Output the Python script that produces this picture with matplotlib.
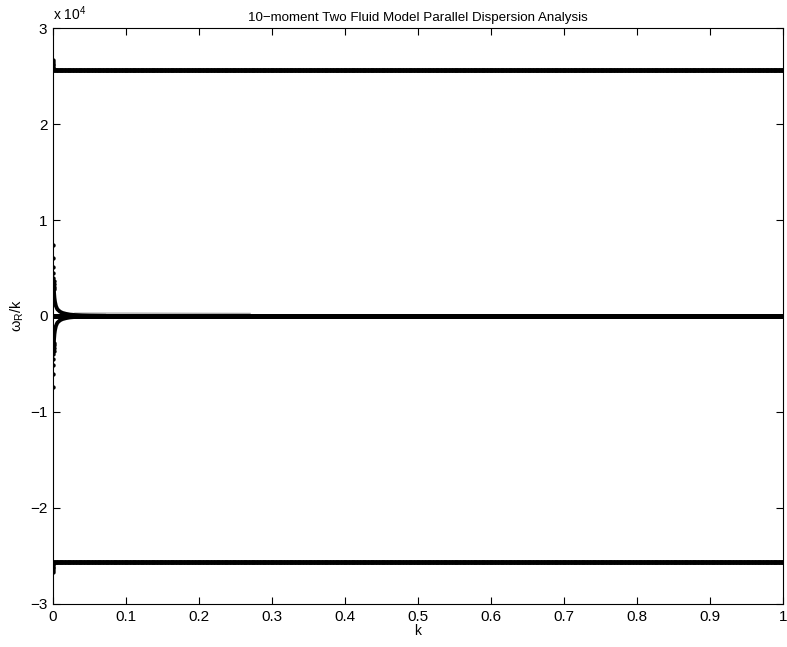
import matplotlib
matplotlib.use("Agg")
import matplotlib.pyplot as plt
import numpy as np

plt.rcParams['font.family'] = ['Liberation Sans', 'DejaVu Sans']
plt.rcParams['mathtext.fontset'] = 'custom'
plt.rcParams['mathtext.rm'] = 'Liberation Sans'
plt.rcParams['mathtext.it'] = 'Liberation Sans:italic'

# k grid used by the solver (1000 steps between 0 and 1)
k = np.arange(1, 1001) / 1000.0

# flat branches, omega_R/k
fast_hi = 25600.0
fast_lo = -25600.0
slow_hi = 0.0
slow_lo = 0.0

# small-k start of the fast branches
k_fast0 = [0.0002, 0.0003, 0.0004, 0.0005, 0.0007, 0.001]
fast0 = [26700, 26500, 26300, 26100, 25900, 25700]

# small-k part of the slow branches (separate dots, then the bend)
k_slow_dots = [0.0003, 0.0004, 0.0005, 0.0006, 0.0007, 0.0008, 0.0009, 0.0010, 0.0011]
slow_dots = [7400, 6000, 5100, 4500, 4000, 3600, 3300, 3050, 2850]
k_slow_bend = [0.0011, 0.0015, 0.002, 0.0027, 0.004, 0.006, 0.0096, 0.013, 0.018,
               0.023, 0.03, 0.04, 0.05, 0.07]
slow_bend = [2850, 2400, 1900, 1500, 1050, 700, 450, 320, 220, 150, 100, 60, 40, 20]

# faint residue just above zero out to k ~ 0.27
k_faint = [0.03, 0.1, 0.2, 0.27]
faint = [300, 300, 280, 270]

fig = plt.figure(figsize=(7.87, 6.47), dpi=100)
ax = fig.add_axes([0.0673, 0.0665, 0.9277, 0.8902])

s = 1e4
ms = 4.3
ax.plot(k_faint, np.array(faint) / s, '-', color='0.65', lw=0.9)
for v in [fast_hi, fast_lo, slow_hi, slow_lo]:
    ax.plot(k, np.full(k.shape, v) / s, 'k.', ms=ms)
ax.plot(k, np.full(k.shape, slow_hi) / s, 'k-', lw=3.3)
ax.plot(k_fast0, np.array(fast0) / s, 'k.', ms=ms)
ax.plot(k_fast0, -np.array(fast0) / s, 'k.', ms=ms)
ax.plot(k_slow_dots, np.array(slow_dots) / s, 'k.', ms=ms)
ax.plot(k_slow_dots, -np.array(slow_dots) / s, 'k.', ms=ms)
ax.plot(k_slow_bend, np.array(slow_bend) / s, 'k-', lw=2.8)
ax.plot(k_slow_bend, -np.array(slow_bend) / s, 'k-', lw=2.8)

ax.set_xlim(0, 1)
ax.set_ylim(-3, 3)
ax.set_xticks(np.arange(0, 1.01, 0.1))
ax.set_xticklabels(['0', '0.1', '0.2', '0.3', '0.4', '0.5', '0.6', '0.7', '0.8', '0.9', '1'])
ax.set_yticks(np.arange(-3, 4))
ax.tick_params(direction='in', top=True, right=True, length=5, labelsize=11, pad=4)
for sp in ax.spines.values():
    sp.set_linewidth(0.8)

ax.set_title('10\u2212moment Two Fluid Model Parallel Dispersion Analysis', fontsize=9.6, pad=5)
ax.set_xlabel('k', fontsize=10, labelpad=0)
ax.set_ylabel('\u03c9$_\\mathrm{R}$/k', fontsize=10.5, labelpad=3)
ax.text(0.0, 1.008, 'x 10$^\\mathrm{4}$', transform=ax.transAxes, fontsize=10, va='bottom')

fig.savefig('out.png', dpi=100)
